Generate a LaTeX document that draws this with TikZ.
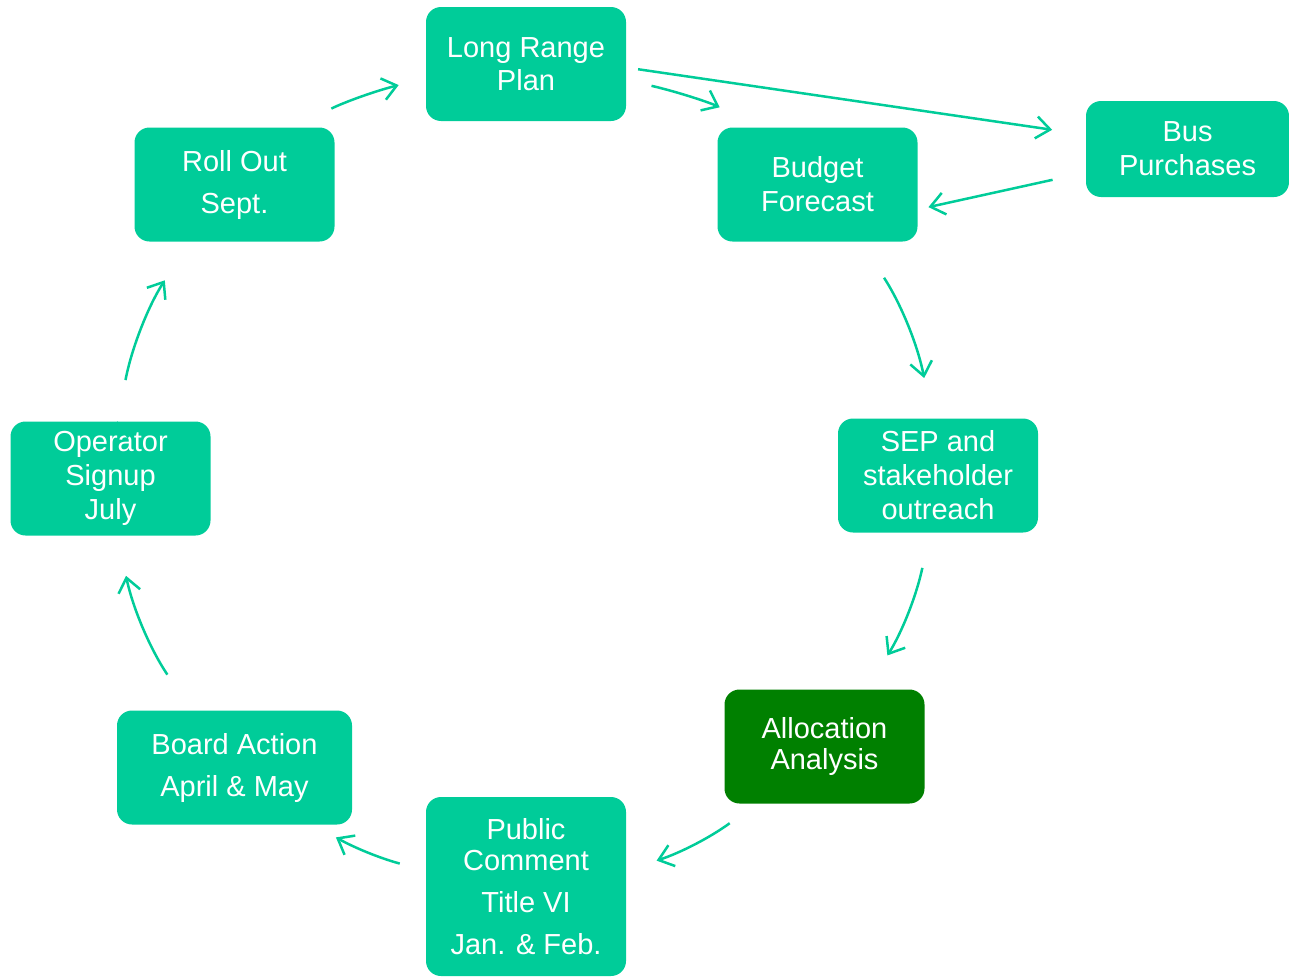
\documentclass[tikz,border=0pt]{standalone}
\usepackage{fontspec}
\setmainfont{Liberation Sans}
\usetikzlibrary{arrows.meta}
\definecolor{cyclegreen}{HTML}{00CC99}
\definecolor{allocgreen}{HTML}{008000}

\begin{document}
\begin{tikzpicture}[
    x=1pt, y=-1pt,
    stage/.style = {rectangle, rounded corners=15pt, fill=cyclegreen, text=white,
      align=center, inner sep=0pt, minimum width=200pt, minimum height=114pt,
      font=\fontsize{29}{34}\selectfont},
    pil/.style = {cyclegreen, line width=2.5pt, -{Straight Barb[length=14pt,width=22pt]}}
    ]
  \useasboundingbox (0,0) rectangle (1289,977);

  \node[stage] (lrp) at (526,64) {Long Range\\[-1pt]Plan} ;
  \node[stage, minimum width=203pt, minimum height=96pt] (bus) at (1187.5,149) {Bus\\Purchases} ;
  \node[stage] (budget) at (817.5,184.5) {Budget\\Forecast} ;
  \node[stage] (sep) at (938,475.5) {SEP and\\stakeholder\\outreach} ;
  \node[stage, fill=allocgreen] (alloc) at (824.5,746.5) {Allocation\\[-3pt]Analysis} ;
  \node[stage, minimum height=179pt] (public) at (526,886.5) {Public\\[-3pt]Comment\\[8pt]Title VI\\[8pt]Jan. \& Feb.} ;
  \node[stage, minimum width=235pt] (board) at (234.5,767.5) {Board Action\\[8pt]April \& May} ;
  \node[stage] (operator) at (110.5,478.5) {Operator\\Signup\\July} ;
  \node[stage] (rollout) at (234.5,184.5) {Roll Out\\[8pt]Sept.} ;

  \draw[pil]
  (rollout.44.3) edge[bend left=6, shorten <=42pt, shorten >=28pt] (lrp.188)
  (lrp.-9) edge[bend left=6, shorten <=26pt, shorten >=47pt] (budget.134.2)
  (lrp.-2.6) edge[shorten <=12pt, shorten >=34pt] (bus.172.8)
  (bus.193.4) edge[shorten <=34pt, shorten >=11pt] (budget.-14)
  (budget.-53.2) edge[bend left=11, shorten <=43pt, shorten >=41pt] (sep.96.4)
  (sep.262.6) edge[bend left=10, shorten <=36pt, shorten >=40pt] (alloc.54.2)
  (alloc.220.3) edge[bend left=9, shorten <=33pt, shorten >=32pt] (public.9.7)
  (public.171.3) edge[bend left=7, shorten <=27pt, shorten >=26pt] (board.-36.4)
  (board.127.2) edge[bend left=11, shorten <=43pt, shorten >=41pt] (operator.-83.9)
  (operator.83.3) edge[bend left=11, shorten <=42pt, shorten >=46pt] (rollout.232.6) ;
\end{tikzpicture}
\end{document}
